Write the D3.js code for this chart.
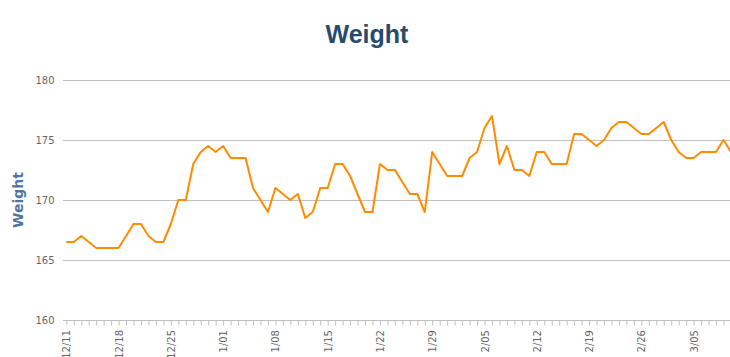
<!DOCTYPE html>
<html>
<head>
<meta charset="utf-8">
<script src="https://cdn.jsdelivr.net/npm/d3@7"></script>
<style>
  html, body { margin: 0; padding: 0; background: #fff; }
  svg { display: block; }
</style>
</head>
<body>
<svg id="chart" width="730" height="357"></svg>
<script>
const titleText = "Weight";
const yAxisTitle = "Weight";
const startDate = "2010-12-11";
const endDate = "2011-03-10";
const yTicks = [160, 165, 170, 175, 180];
const weights = [
  166.5, 166.5, 167, 166.5, 166, 166, 166, 166, 167, 168,
  168, 167, 166.5, 166.5, 168, 170, 170, 173, 174, 174.5,
  174, 174.5, 173.5, 173.5, 173.5, 171, 170, 169, 171, 170.5,
  170, 170.5, 168.5, 169, 171, 171, 173, 173, 172, 170.5,
  169, 169, 173, 172.5, 172.5, 171.5, 170.5, 170.5, 169, 174,
  173, 172, 172, 172, 173.5, 174, 176, 177, 173, 174.5,
  172.5, 172.5, 172, 174, 174, 173, 173, 173, 175.5, 175.5,
  175, 174.5, 175, 176, 176.5, 176.5, 176, 175.5, 175.5, 176,
  176.5, 175, 174, 173.5, 173.5, 174, 174, 174, 175, 174
];

const parse = d3.timeParse("%Y-%m-%d");
const d0 = parse(startDate), d1 = parse(endDate);
const dates = d3.timeDay.range(d0, d3.timeDay.offset(d1, 1));
const data = dates.map((d, i) => ({date: d, value: weights[i]}));

const svg = d3.select("#chart");
const W = 730, H = 357;
const plotLeft = 63, plotRight = 730, plotTop = 80, plotBottom = 320;

const x = d3.scaleTime().domain([d0, d1]).range([66.3, 66.3 + 89 * 7.468]);
const y = d3.scaleLinear().domain([160, 180]).range([plotBottom, plotTop]);

// title
svg.append("text")
  .attr("x", 367).attr("y", 43)
  .attr("text-anchor", "middle")
  .attr("font-family", "'Liberation Sans', Arial, sans-serif")
  .attr("font-weight", "bold")
  .attr("font-size", 25)
  .attr("fill", "#274b6d")
  .text(titleText);

// gridlines
svg.append("g").selectAll("line")
  .data(yTicks.filter(t => t !== 160))
  .join("line")
  .attr("x1", plotLeft).attr("x2", plotRight)
  .attr("y1", d => Math.round(y(d)) + 0.5).attr("y2", d => Math.round(y(d)) + 0.5)
  .attr("stroke", "#c0c0c0").attr("stroke-width", 1);

// y labels
svg.append("g").selectAll("text")
  .data(yTicks)
  .join("text")
  .attr("x", 54.5).attr("y", d => y(d) + 3.5)
  .attr("text-anchor", "end")
  .attr("font-family", "'DejaVu Sans', Verdana, sans-serif")
  .attr("font-size", 10)
  .attr("fill", "#666")
  .text(d => d);

// y axis title
svg.append("text")
  .attr("transform", "translate(22.5,200) rotate(-90)")
  .attr("text-anchor", "middle")
  .attr("font-family", "'DejaVu Sans', Verdana, sans-serif")
  .attr("font-weight", "bold")
  .attr("font-size", 14)
  .attr("fill", "#4d759e")
  .text(yAxisTitle);

// x axis
const xAxis = d3.axisBottom(x)
  .ticks(d3.timeDay.every(1))
  .tickSize(5)
  .tickFormat("");
const gx = svg.append("g")
  .attr("transform", `translate(0,${plotBottom + 0.5})`)
  .call(xAxis);
gx.select(".domain").remove();
gx.selectAll(".tick line").attr("stroke", "#c0c0c0");
svg.append("line")
  .attr("x1", plotLeft).attr("x2", plotRight)
  .attr("y1", plotBottom + 0.5).attr("y2", plotBottom + 0.5)
  .attr("stroke", "#c0c0c0");

// x labels weekly
const weekly = d3.timeDay.range(d0, d3.timeDay.offset(d1, 1), 7);
const fmt = d3.timeFormat("%-m/%d");
svg.append("g").selectAll("text")
  .data(weekly)
  .join("text")
  .attr("transform", d => `translate(${x(d) + 4},330) rotate(-90)`)
  .attr("text-anchor", "end")
  .attr("font-family", "'DejaVu Sans', Verdana, sans-serif")
  .attr("font-size", 10)
  .attr("fill", "#666")
  .text(d => fmt(d));

// line
const line = d3.line().x(d => x(d.date)).y(d => y(d.value));
svg.append("path")
  .datum(data)
  .attr("d", line)
  .attr("fill", "none")
  .attr("stroke", "#ff8c00")
  .attr("stroke-width", 2)
  .attr("stroke-linejoin", "round");
</script>
</body>
</html>
